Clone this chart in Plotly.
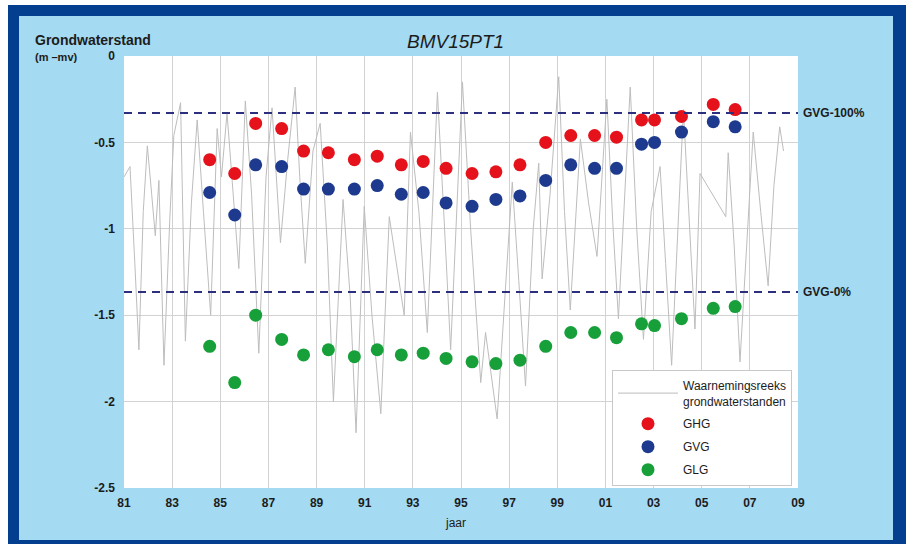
import plotly.graph_objects as go

# ---------------- data ----------------
# GHG / GVG / GLG per hydrological year (decimal year)
stat_years = [1984.56, 1985.60, 1986.47, 1987.55, 1988.46, 1989.49, 1990.57, 1991.52,
              1992.52, 1993.43, 1994.38, 1995.46, 1996.45, 1997.45, 1998.52, 1999.56,
              2000.55, 2001.46, 2002.50, 2003.04, 2004.16, 2005.48, 2006.39]
ghg = [-0.60, -0.68, -0.39, -0.42, -0.55, -0.56, -0.60, -0.58, -0.63, -0.61, -0.65, -0.68,
       -0.67, -0.63, -0.50, -0.46, -0.46, -0.47, -0.37, -0.37, -0.35, -0.28, -0.31]
gvg = [-0.79, -0.92, -0.63, -0.64, -0.77, -0.77, -0.77, -0.75, -0.80, -0.79, -0.85, -0.87,
       -0.83, -0.81, -0.72, -0.63, -0.65, -0.65, -0.51, -0.50, -0.44, -0.38, -0.41]
glg = [-1.68, -1.89, -1.50, -1.64, -1.73, -1.70, -1.74, -1.70, -1.73, -1.72, -1.75, -1.77,
       -1.78, -1.76, -1.68, -1.60, -1.60, -1.63, -1.55, -1.56, -1.52, -1.46, -1.45]

obs_years = [1981.00, 1981.25, 1981.45, 1981.62, 1981.80, 1981.97, 1982.15, 1982.30, 1982.45,
             1982.66, 1982.90, 1983.07, 1983.35, 1983.55, 1983.80, 1984.04, 1984.30, 1984.60,
             1984.87, 1985.05, 1985.28, 1985.50, 1985.77, 1986.04, 1986.30, 1986.60, 1986.90,
             1987.15, 1987.50, 1987.80, 1988.11, 1988.30, 1988.53, 1988.85, 1989.15, 1989.45,
             1989.70, 1990.10, 1990.40, 1990.64, 1990.98, 1991.30, 1991.67, 1992.02, 1992.30,
             1992.64, 1992.90, 1993.25, 1993.60, 1994.02, 1994.30, 1994.57, 1995.06, 1995.40,
             1995.82, 1996.02, 1996.50, 1997.13, 1997.40, 1997.68, 1998.00, 1998.23, 1998.37,
             1998.70, 1999.06, 1999.30, 1999.54, 1999.96, 2000.30, 2000.65, 2001.06, 2001.30,
             2001.54, 2002.03, 2002.30, 2002.58, 2002.90, 2003.27, 2003.50, 2003.75, 2004.24,
             2004.50, 2004.72, 2004.93, 2006.00, 2006.10, 2006.35, 2006.59, 2007.14, 2007.45,
             2007.76, 2008.00, 2008.24, 2008.40]
obs_levels = [-0.70, -0.64, -1.20, -1.70, -0.90, -0.52, -0.80, -1.04, -0.72,
              -1.79, -0.95, -0.46, -0.27, -1.65, -0.85, -0.37, -0.90, -1.50,
              -0.42, -0.70, -0.33, -0.75, -1.23, -0.26, -0.80, -1.72, -0.70,
              -0.30, -1.08, -0.60, -0.18, -0.70, -1.20, -0.55, -0.39, -1.10,
              -2.00, -0.83, -1.40, -2.18, -0.87, -1.50, -2.07, -0.93, -1.20,
              -1.50, -0.44, -0.90, -1.60, -0.21, -0.95, -1.70, -0.15, -1.00,
              -1.89, -1.60, -2.10, -0.73, -1.30, -1.91, -1.00, -0.62, -1.29,
              -0.80, -0.12, -0.90, -1.47, -0.48, -0.85, -1.16, -0.25, -0.95,
              -1.52, -0.18, -1.00, -1.64, -0.90, -0.64, -1.20, -1.79, -0.31,
              -1.00, -1.58, -0.68, -0.93, -0.56, -1.10, -1.77, -0.44, -0.90,
              -1.33, -0.75, -0.41, -0.55]

gvg_100 = -0.33
gvg_0 = -1.366

x_tickvals = list(range(1981, 2010, 2))
x_ticktext = ["81", "83", "85", "87", "89", "91", "93", "95", "97", "99",
              "01", "03", "05", "07", "09"]
y_tickvals = [0, -0.5, -1, -1.5, -2, -2.5]
y_ticktext = ["0", "-0.5", "-1", "-1.5", "-2", "-2.5"]

# ---------------- figure ----------------
FONT = "Liberation Sans, Arial, sans-serif"
TXT = "#1c1c1c"
LIGHT = "#a4daf2"
DARK = "#033f8e"

fig = go.Figure()
fig.add_trace(go.Scatter(x=obs_years, y=obs_levels, mode="lines",
                         line=dict(color="#bdbdbd", width=1),
                         name="Waarnemingsreeks<br>grondwaterstanden", legendgroup="a"))
fig.add_trace(go.Scatter(x=stat_years, y=ghg, mode="markers", name="GHG", legendgroup="b",
                         marker=dict(color="#e5121b", size=13, line=dict(width=0))))
fig.add_trace(go.Scatter(x=stat_years, y=gvg, mode="markers", name="GVG", legendgroup="c",
                         marker=dict(color="#1d3a8e", size=13, line=dict(width=0))))
fig.add_trace(go.Scatter(x=stat_years, y=glg, mode="markers", name="GLG", legendgroup="d",
                         marker=dict(color="#17a03a", size=13, line=dict(width=0))))

for yv in (gvg_100, gvg_0):
    fig.add_shape(type="line", xref="paper", yref="y", x0=0, x1=1, y0=yv, y1=yv,
                  line=dict(color="#2c2f7c", width=2, dash="8px,6px"), layer="above")

fig.add_annotation(x=1.004, y=gvg_100, xref="paper", yref="y", text="<b>GVG-100%</b>",
                   showarrow=False, xanchor="left", yanchor="middle",
                   font=dict(family=FONT, size=12, color=TXT))
fig.add_annotation(x=1.004, y=gvg_0, xref="paper", yref="y", text="<b>GVG-0%</b>",
                   showarrow=False, xanchor="left", yanchor="middle",
                   font=dict(family=FONT, size=12, color=TXT))

# frame pieces (paper coords; plot area px 124..798 x 56..488)
def px2x(px):
    return (px - 124) / 674.0

def py2y(py):
    return (488 - py) / 432.0

def rect(x0, y0, x1, y1, color):
    fig.add_shape(type="rect", xref="paper", yref="paper",
                  x0=px2x(x0), x1=px2x(x1), y0=py2y(y0), y1=py2y(y1),
                  fillcolor=color, line=dict(width=0), layer="above")

rect(0, 0, 906, 5, "white")
rect(0, 0, 8, 544, "white")
rect(8, 5, 906, 16, DARK)
rect(8, 5, 19, 544, DARK)
rect(893, 5, 906, 544, DARK)
rect(8, 540, 906, 544, DARK)

fig.add_annotation(x=px2x(33), y=py2y(40), xref="paper", yref="paper",
                   text="<b>Grondwaterstand</b>", showarrow=False,
                   xanchor="left", yanchor="middle",
                   font=dict(family=FONT, size=14, color=TXT))
fig.add_annotation(x=px2x(33), y=py2y(57), xref="paper", yref="paper",
                   text="<b>(m \u2013mv)</b>", showarrow=False,
                   xanchor="left", yanchor="middle",
                   font=dict(family=FONT, size=11, color=TXT))
fig.add_annotation(x=px2x(455), y=py2y(42), xref="paper", yref="paper",
                   text="<i>BMV15PT1</i>", showarrow=False,
                   xanchor="center", yanchor="middle",
                   font=dict(family=FONT, size=19, color=TXT))
fig.add_annotation(x=px2x(455), y=py2y(523), xref="paper", yref="paper",
                   text="jaar", showarrow=False,
                   xanchor="center", yanchor="middle",
                   font=dict(family=FONT, size=12, color=TXT))

fig.update_xaxes(range=[1981, 2009], tickvals=x_tickvals, ticktext=x_ticktext,
                 showgrid=True, gridcolor="#d2d2d2", gridwidth=1, zeroline=False,
                 showline=False, ticks="", ticklabelstandoff=6,
                 tickfont=dict(family=FONT, size=12, color=TXT, weight="bold"))
fig.update_yaxes(range=[-2.5, 0], tickvals=y_tickvals, ticktext=y_ticktext,
                 showgrid=True, gridcolor="#d2d2d2", gridwidth=1, zeroline=False,
                 showline=False, ticks="", ticklabelstandoff=8,
                 tickfont=dict(family=FONT, size=12, color=TXT, weight="bold"))

fig.update_layout(
    width=906, height=544,
    margin=dict(l=124, r=108, t=56, b=56),
    paper_bgcolor=LIGHT, plot_bgcolor="white",
    showlegend=True,
    legend=dict(x=px2x(612), y=py2y(370), xanchor="left", yanchor="top",
                bgcolor="white", bordercolor="#c8c8c8", borderwidth=1,
                font=dict(family=FONT, size=12, color=TXT),
                itemwidth=60, tracegroupgap=4),
    font=dict(family=FONT, color=TXT),
)

fig.write_html("out.html", config={"displayModeBar": False},
               post_script="document.body.style.margin='0px';document.body.style.overflow='hidden';")
